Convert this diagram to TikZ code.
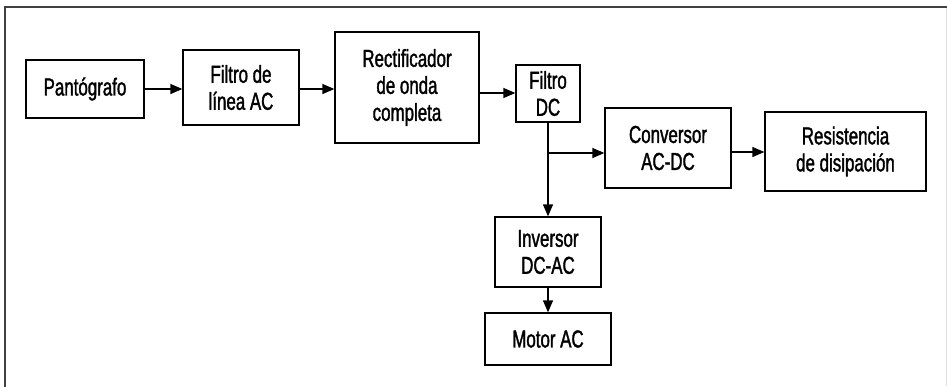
\documentclass[tikz,border=0pt]{standalone}
\usepackage{fontspec}
\setmainfont{Liberation Sans}[FakeStretch=0.69,FakeBold=1.4]
\usetikzlibrary{arrows.meta}
\begin{document}
\begin{tikzpicture}[x=1pt,y=-1pt,
  blk/.style={draw=black,line width=1.3pt,inner sep=0pt,align=center,
    font=\fontsize{24.5}{27}\selectfont},
  conn/.style={line width=1.3pt,-{Triangle[length=12pt,width=10pt]}},
  plain/.style={line width=1.3pt}]
\useasboundingbox (0,0) rectangle (947,386);
\fill[white] (0,0) rectangle (947,386);
% frame
\draw[line width=2.2pt,draw=black!75] (5,387) -- (5,7) -- (947,7);
\draw[line width=1pt,draw=black!12] (946,8) -- (946,386);
% boxes
\node[blk,minimum width=118pt,minimum height=58pt] (pan) at (85,89) {Pantógrafo};
\node[blk,minimum width=116pt,minimum height=75pt] (fil) at (241,87.5) {Filtro de\\línea AC};
\node[blk,minimum width=144pt,minimum height=111pt] (rec) at (407,87.5) {Rectificador\\de onda\\completa};
\node[blk,minimum width=64pt,minimum height=57pt] (fdc) at (548,93.5) {Filtro\\DC};
\node[blk,minimum width=126pt,minimum height=80pt] (con) at (668,148) {Conversor\\AC-DC};
\node[blk,minimum width=161pt,minimum height=79pt] (res) at (845.5,151.5) {Resistencia\\de disipación};
\node[blk,minimum width=106pt,minimum height=70pt] (inv) at (548,252) {Inversor\\DC-AC};
\node[blk,minimum width=126pt,minimum height=52pt] (mot) at (548,339) {Motor AC};
% connectors
\draw[conn] (pan.east) -- (fil.west |- pan.east);
\draw[conn] (fil.east |- 0,89) -- (rec.west |- 0,89);
\draw[conn] (rec.east |- 0,93) -- (fdc.west |- 0,93);
\coordinate (br) at (548,153);
\draw[conn] (fdc.south) -- (inv.north);
\draw[conn] (br) -- (con.west |- br);
\draw[conn] (con.east |- 0,152) -- (res.west |- 0,152);
\draw[conn] (inv.south) -- (mot.north);
\end{tikzpicture}
\end{document}
